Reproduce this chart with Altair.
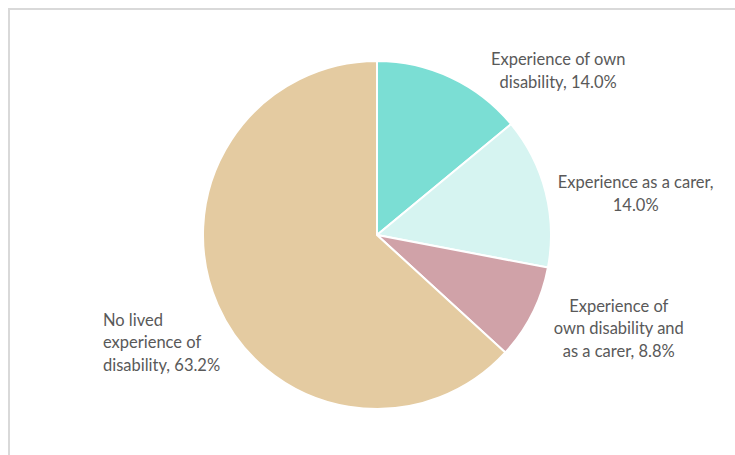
import altair as alt
import pandas as pd

categories = [
    "Experience of own disability",
    "Experience as a carer",
    "Experience of own disability and as a carer",
    "No lived experience of disability",
]
values = [14.0, 14.0, 8.8, 63.2]
label_text = [
    "Experience of own\ndisability, 14.0%",
    "Experience as a carer,\n14.0%",
    "Experience of\nown disability and\nas a carer, 8.8%",
    "No lived\nexperience of\ndisability, 63.2%",
]
colors = ["#7BDED4", "#D6F4F1", "#D0A2A8", "#E4CBA1"]

df = pd.DataFrame({
    "category": categories,
    "value": values,
    "label": label_text,
    "order": list(range(len(categories))),
})

CX, CY, R = 377, 235, 174

base = alt.Chart(df)

pie = base.mark_arc(outerRadius=R, stroke="white", strokeWidth=2).encode(
    theta=alt.Theta("value:Q", stack=True),
    color=alt.Color("category:N", scale=alt.Scale(domain=categories, range=colors), legend=None),
    order=alt.Order("order:Q"),
    x=alt.value(CX),
    y=alt.value(CY),
)

lab = base.transform_window(
    cum="sum(value)", sort=[alt.SortField("order")], frame=[None, 0]
).transform_calculate(mid="datum.cum - datum.value / 2")


def label_layer(i, dx, dy, align):
    return lab.transform_filter(alt.datum.order == i).mark_text(
        radius=200, dx=dx, dy=dy, align=align, baseline="alphabetic",
        lineBreak="\n", font="Lato", fontSize=16.5, lineHeight=22.5, color="#595959",
    ).encode(
        theta=alt.Theta("mid:Q", stack=None, scale=alt.Scale(domain=[0, 100])),
        text="label:N",
        x=alt.value(CX),
        y=alt.value(CY),
    )


labels = [
    label_layer(0, 96, 11, "center"),
    label_layer(1, 65, 3, "center"),
    label_layer(2, 63, -13, "center"),
    label_layer(3, -91, 10, "left"),
]

border_top = alt.Chart(df).mark_rule(color="#D9D9D9", strokeWidth=2).encode(
    x=alt.value(8), x2=alt.value(735), y=alt.value(9)
)
border_left = alt.Chart(df).mark_rule(color="#D9D9D9", strokeWidth=2).encode(
    x=alt.value(9), y=alt.value(8), y2=alt.value(455)
)

chart = alt.layer(border_top, border_left, pie, *labels).properties(
    width=735, height=455, autosize=alt.AutoSizeParams(type="none"), padding=0,
    background="white",
).configure_view(stroke=None)

chart.save("out.html", embed_options={"renderer": "svg", "actions": False})
